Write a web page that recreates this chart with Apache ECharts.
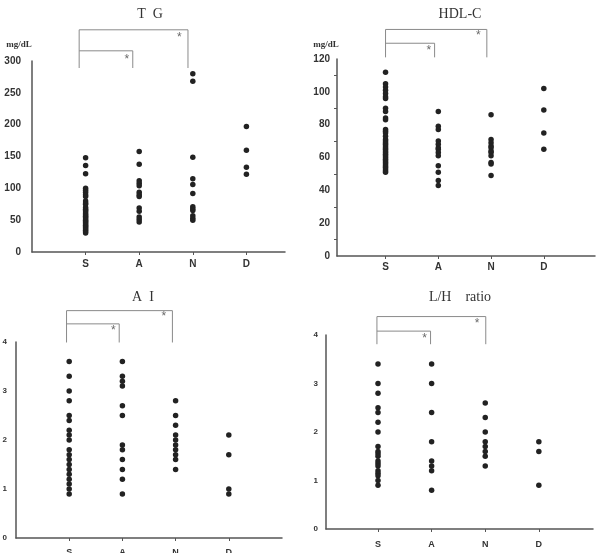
<!DOCTYPE html>
<html lang="en">
<head>
<meta charset="UTF-8">
<script src="https://cdn.jsdelivr.net/npm/echarts@6/dist/echarts.min.js"></script>
<title>TG HDL-C AI L/H</title>
<style>
  html, body { margin: 0; padding: 0; background: #fff; }
  #main { width: 597px; height: 553px; }
</style>
</head>
<body>
<div id="main"></div>
<script type="text/javascript">
    // groups on the x axis
    var groups = ['S', 'A', 'N', 'D'];

    // TG (mg/dL)
    var tgS = [148, 136, 123, 100, 97, 94, 90, 87, 80, 77, 75, 70, 67, 65, 63, 60, 58, 56, 54, 52, 50, 48, 46, 44, 42, 40, 38, 36, 34, 32, 30];
    var tgA = [158, 138, 112, 108, 104, 94, 90, 87, 69, 64, 55, 51, 47];
    var tgN = [280, 268, 149, 115, 106, 92, 71, 68, 65, 57, 53, 50];
    var tgD = [197, 160, 133, 122];

    // HDL-C (mg/dL)
    var hdlS = [112, 105, 103, 101, 99, 97, 96, 90, 88, 84, 83, 77, 76, 75, 73, 71, 70, 69, 68, 67, 66, 65, 64, 63, 62, 61, 60, 59, 58, 57, 56, 55, 54, 53, 52, 51];
    var hdlA = [88, 79, 77, 70, 68, 66, 65, 63, 61, 55, 51, 46, 43];
    var hdlN = [86, 71, 69, 67, 66, 64, 63, 61, 57, 56, 49];
    var hdlD = [102, 89, 75, 65];

    // AI
    var aiS = [3.6, 3.3, 3.0, 2.8, 2.5, 2.4, 2.2, 2.1, 2.0, 1.8, 1.7, 1.6, 1.5, 1.4, 1.3, 1.2, 1.1, 1.0, 0.9];
    var aiA = [3.6, 3.3, 3.2, 3.1, 2.7, 2.5, 1.9, 1.8, 1.6, 1.4, 1.2, 0.9];
    var aiN = [2.8, 2.5, 2.3, 2.1, 2.0, 1.9, 1.8, 1.7, 1.6, 1.4];
    var aiD = [2.1, 1.7, 1.0, 0.9];

    // L/H ratio
    var lhS = [3.4, 3.0, 2.8, 2.5, 2.4, 2.2, 2.0, 1.7, 1.6, 1.55, 1.5, 1.4, 1.35, 1.3, 1.2, 1.15, 1.1, 1.0, 0.9];
    var lhA = [3.4, 3.0, 2.4, 1.8, 1.4, 1.3, 1.2, 0.8];
    var lhN = [2.6, 2.3, 2.0, 1.8, 1.7, 1.6, 1.5, 1.3];
    var lhD = [1.8, 1.6, 0.9];

    // significance brackets, in axis units: [left x, inner right x, outer right x, outer top, inner top, leg bottom]
    var brTG  = [0.88, 1.88, 2.91, 349, 316, 289];
    var brHDL = [1.0, 1.93, 2.92, 138, 129.6, 121];
    var brAI  = [0.95, 1.94, 2.94, 4.64, 4.37, 3.99];
    var brLH  = [0.98, 1.98, 3.01, 4.38, 4.08, 3.81];

    var panels = [
        {sets: [tgS, tgA, tgN, tgD], br: brTG},
        {sets: [hdlS, hdlA, hdlN, hdlD], br: brHDL},
        {sets: [aiS, aiA, aiN, aiD], br: brAI},
        {sets: [lhS, lhA, lhN, lhD], br: brLH}
    ];

    var grids = [
        {left: 32, top: 61, width: 253, height: 191, outerBoundsMode: 'none'},
        {left: 337, top: 59, width: 258, height: 197, outerBoundsMode: 'none'},
        {left: 16, top: 342, width: 266, height: 196, outerBoundsMode: 'none'},
        {left: 326, top: 335, width: 267, height: 194, outerBoundsMode: 'none'}
    ];
    var xRange = [[0, 4.72], [0.08, 4.97], [0, 5], [0.03, 5.01]];
    var yRange = [[300, 50], [120, 20], [4, 1], [4, 1]];
    var yFont = [10, 10, 8, 8];
    var yMargin = [11, 7, 9, 8];
    var xFont = [10, 10, 9, 9];
    var xMargin = [7, 6, 10, 11];

    var axisCol = '#555';
    var textCol = '#333';

    var xAxes = [], yAxes = [], series = [];
    panels.forEach(function (p, i) {
        xAxes.push({
            type: 'value', gridIndex: i, min: xRange[i][0], max: xRange[i][1],
            splitLine: {show: false},
            axisLine: {show: true, onZero: false, lineStyle: {color: axisCol, width: 1.5}},
            axisTick: {show: true, length: 3, customValues: [1, 2, 3, 4], lineStyle: {color: axisCol}},
            axisLabel: {
                customValues: [1, 2, 3, 4], margin: xMargin[i],
                fontFamily: 'Liberation Sans', fontWeight: 'bold', fontSize: xFont[i], color: textCol,
                formatter: function (v) { return groups[Math.round(v) - 1] || ''; }
            }
        });
        yAxes.push({
            type: 'value', gridIndex: i, min: 0, max: yRange[i][0], interval: yRange[i][1],
            splitLine: {show: false},
            axisLine: {show: true, lineStyle: {color: axisCol, width: 1.5}},
            axisTick: {show: false},
            minorTick: {show: i === 1, splitNumber: 2, length: 3, lineStyle: {color: axisCol}},
            axisLabel: {
                margin: yMargin[i],
                fontFamily: 'Liberation Sans', fontWeight: 'bold', fontSize: yFont[i], color: textCol
            }
        });
        // the dots
        p.sets.forEach(function (vals, k) {
            series.push({
                type: 'scatter', xAxisIndex: i, yAxisIndex: i,
                symbolSize: 5.5, itemStyle: {color: '#222', opacity: 1},
                data: vals.map(function (v) { return [k + 1, v]; })
            });
        });
        // brackets
        var b = p.br;
        series.push({
            type: 'line', xAxisIndex: i, yAxisIndex: i, clip: false, silent: true,
            showSymbol: false, symbol: 'none', lineStyle: {color: '#8a8a8a', width: 1},
            data: [[b[0], b[5]], [b[0], b[3]], [b[2], b[3]], [b[2], b[5]]]
        });
        series.push({
            type: 'line', xAxisIndex: i, yAxisIndex: i, clip: false, silent: true,
            showSymbol: false, symbol: 'none', lineStyle: {color: '#8a8a8a', width: 1},
            data: [[b[0], b[4]], [b[1], b[4]], [b[1], b[5]]]
        });
        // asterisks just left of each right leg
        var dy = (b[3] - b[4]);
        series.push({
            type: 'scatter', xAxisIndex: i, yAxisIndex: i, clip: false, silent: true,
            symbolSize: 1, itemStyle: {color: 'transparent'},
            label: {show: true, position: 'inside', offset: [0, 3], formatter: '*', fontSize: 12, color: '#444', fontFamily: 'Liberation Sans'},
            data: [[b[1] - 0.11, b[4] - dy * 0.3], [b[2] - 0.16, b[3] - dy * 0.25]]
        });
    });

    var serif = 'Liberation Serif';
    var titleStyle = function (x, y, t) {
        return {type: 'text', x: x, y: y, style: {text: t, fill: textCol, font: '14px "' + serif + '"', textAlign: 'center', textVerticalAlign: 'middle'}};
    };
    var unitStyle = function (x, y) {
        return {type: 'text', x: x, y: y, style: {text: 'mg/dL', fill: textCol, font: 'bold 9px "' + serif + '"', textAlign: 'center', textVerticalAlign: 'middle'}};
    };

    var myChart = echarts.init(document.getElementById('main'));
    var option = {
        backgroundColor: '#fff',
        animation: false,
        grid: grids,
        xAxis: xAxes,
        yAxis: yAxes,
        series: series,
        graphic: [
            titleStyle(150, 14, 'T  G'),
            titleStyle(460, 14, 'HDL-C'),
            titleStyle(143, 297, 'A  I'),
            titleStyle(460, 297, 'L/H    ratio'),
            unitStyle(19, 45),
            unitStyle(326, 45)
        ]
    };
    myChart.setOption(option);
</script>
</body>
</html>
